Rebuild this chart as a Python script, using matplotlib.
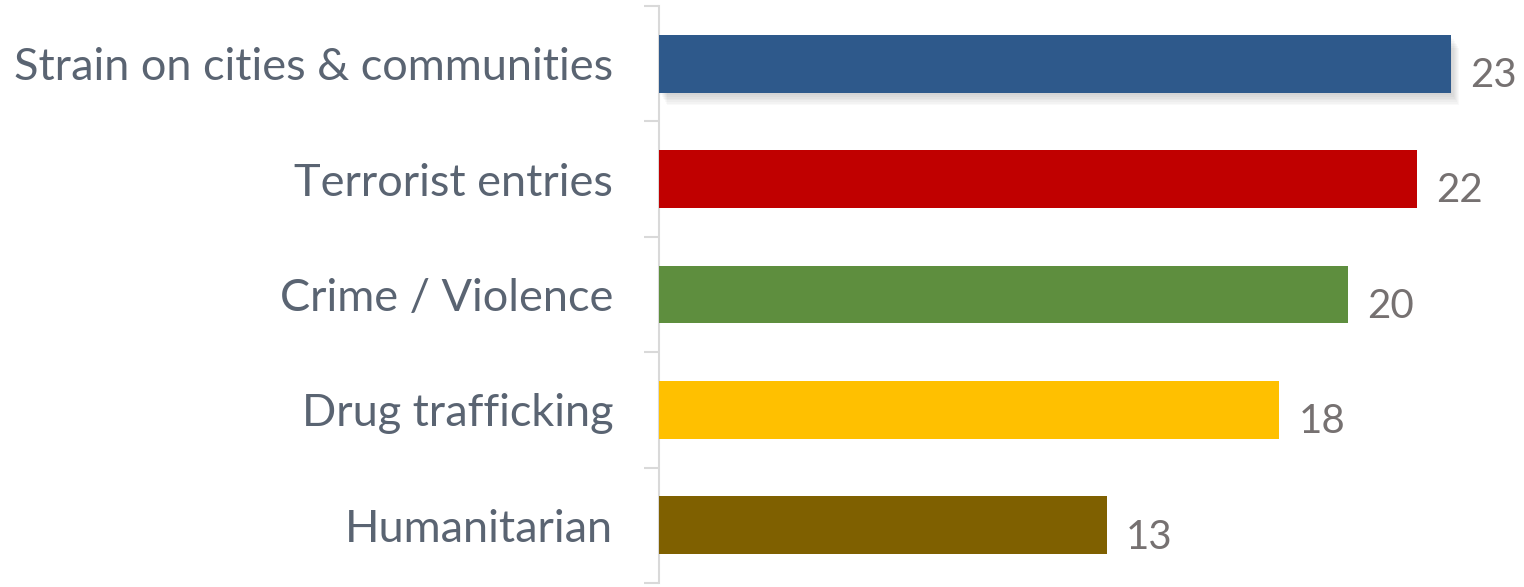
import matplotlib
matplotlib.use("Agg")
import matplotlib.pyplot as plt
import matplotlib.patheffects as pe

categories = ["Strain on cities & communities", "Terrorist entries", "Crime / Violence",
              "Drug trafficking", "Humanitarian"]
values = [23, 22, 20, 18, 13]
colors = ["#2e598b", "#c00000", "#5e8e3e", "#ffc000", "#7f6000"]

W, H = 1524, 587
fig = plt.figure(figsize=(W / 100, H / 100), dpi=100)
ax = fig.add_axes([659 / W, (H - 583) / H, (W - 659) / W, (583 - 6) / H])

ypos = list(range(len(categories)))
bars = ax.barh(ypos, values, height=0.5, color=colors, zorder=3)

# soft shadow on the first bar
shadow_layers = [pe.SimplePatchShadow(offset=(1 + 0.8 * i, -2 - 1.2 * i), shadow_rgbFace="black", alpha=0.022)
                 for i in range(7)]
bars[0].set_path_effects(shadow_layers + [pe.Normal()])

ax.set_xlim(0, 865 / (792 / 23))
ax.set_ylim(len(categories) - 0.5, -0.5)

for sp in ["top", "right", "bottom"]:
    ax.spines[sp].set_visible(False)
ax.spines["left"].set_color("#d9d9d9")
ax.spines["left"].set_linewidth(1.5)
ax.set_xticks([])

ax.set_yticks([i - 0.5 for i in range(len(categories) + 1)])
ax.set_yticklabels([])
ax.tick_params(axis="y", which="major", length=11, width=1.5, color="#d9d9d9")
ax.set_yticks(ypos, minor=True)
ax.set_yticklabels(categories, minor=True, fontsize=32.5, color="#5a6472", family="Lato")
ax.tick_params(axis="y", which="minor", length=0, pad=33)

for y, v in zip(ypos, values):
    ax.annotate(str(v), xy=(v, y), xytext=(14, -8.5), textcoords="offset points",
                ha="left", va="center", fontsize=29, color="#767171", family="Lato")

fig.savefig("out.png", dpi=100)
